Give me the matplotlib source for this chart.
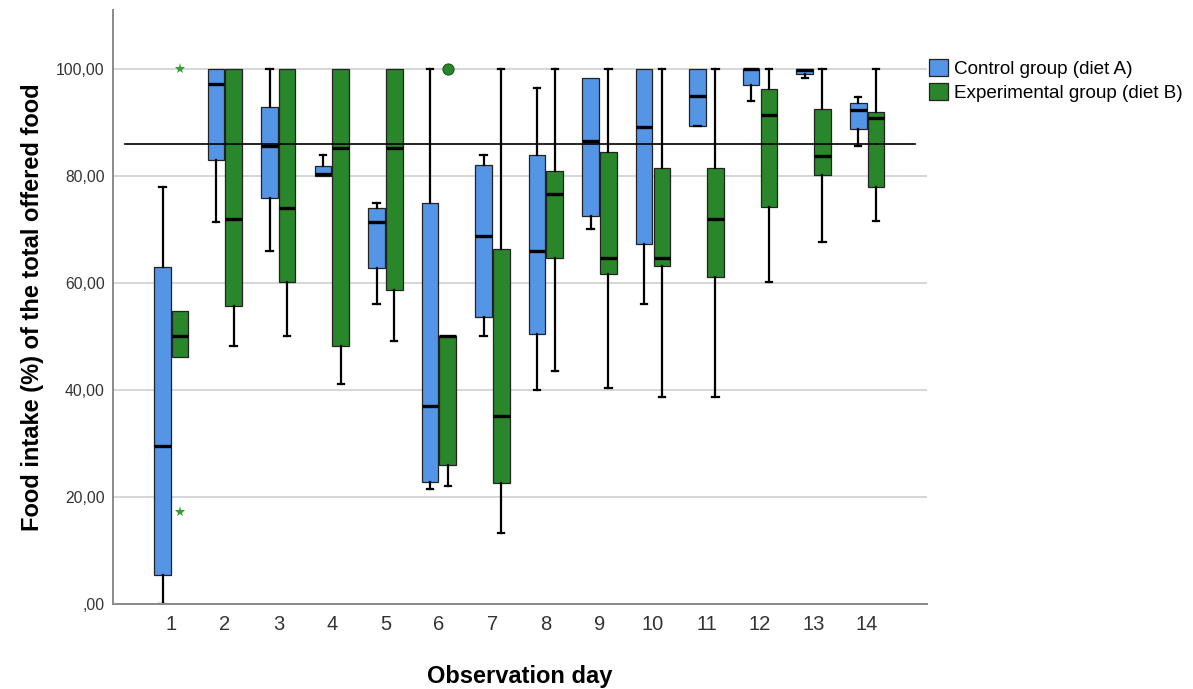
import matplotlib
matplotlib.use("Agg")
import matplotlib.pyplot as plt
from matplotlib.patches import Patch
import numpy as np

plt.rcParams['font.family'] = ['Liberation Sans', 'DejaVu Sans']

days = list(range(1, 15))

# control group (diet A): five-number summaries
ctrl_whislo = [0.0, 71.4, 66.0, 80.0, 56.0, 21.5, 50.0, 40.0, 70.0, 56.0, 89.3, 94.0, 98.2, 85.6]
ctrl_q1 = [5.5, 83.0, 75.8, 80.0, 62.8, 22.8, 53.6, 50.4, 72.5, 67.2, 89.4, 96.9, 99.1, 88.8]
ctrl_med = [29.5, 97.2, 85.6, 80.3, 71.4, 37.0, 68.7, 66.0, 86.6, 89.2, 95.0, 100.0, 99.8, 92.4]
ctrl_q3 = [63.0, 100.0, 92.8, 81.9, 74.0, 75.0, 82.1, 83.9, 98.3, 100.0, 100.0, 100.0, 100.0, 93.7]
ctrl_whishi = [78.0, 100.0, 100.0, 83.9, 75.0, 100.0, 83.9, 96.4, 98.3, 100.0, 100.0, 100.0, 100.0, 94.7]

# experimental group (diet B)
exp_whislo = [46.2, 48.3, 50.0, 41.2, 49.1, 22.1, 13.3, 43.6, 40.3, 38.7, 38.7, 60.2, 67.7, 71.6]
exp_q1 = [46.2, 55.6, 60.2, 48.2, 58.7, 25.9, 22.6, 64.7, 61.7, 63.2, 61.1, 74.1, 80.1, 77.9]
exp_med = [50.0, 72.0, 74.0, 85.2, 85.2, 50.0, 35.2, 76.7, 64.7, 64.6, 72.0, 91.3, 83.8, 90.8]
exp_q3 = [54.8, 100.0, 100.0, 100.0, 100.0, 50.0, 66.3, 81.0, 84.5, 81.4, 81.4, 96.3, 92.5, 91.9]
exp_whishi = [54.8, 100.0, 100.0, 100.0, 100.0, 50.0, 100.0, 100.0, 100.0, 100.0, 100.0, 100.0, 100.0, 100.0]

# outliers of the experimental group: extremes (*) and plain outliers (o)
exp_extreme_day = [1, 1]
exp_extreme_val = [100.0, 17.2]
exp_outlier_day = [6]
exp_outlier_val = [100.0]

ref_value = 86.0

ytick_vals = [0, 20, 40, 60, 80, 100]
ytick_labels = [',00', '20,00', '40,00', '60,00', '80,00', '100,00']

BLUE = '#5495e6'
GREEN = '#2a862a'
offset = 0.165
width = 0.31


def make_stats(lo, q1, med, q3, hi):
    return [dict(whislo=a, q1=b, med=c, q3=d, whishi=e, fliers=[])
            for a, b, c, d, e in zip(lo, q1, med, q3, hi)]


def hide_flat_caps(parts, lo, q1, q3, hi):
    # no cap when the whisker has zero length (SPSS draws none)
    for i in range(len(lo)):
        if lo[i] >= q1[i]:
            parts['caps'][2 * i].set_visible(False)
        if hi[i] <= q3[i]:
            parts['caps'][2 * i + 1].set_visible(False)


fig = plt.figure(figsize=(11.93, 6.89), dpi=100)
ax = fig.add_axes([113 / 1193, 1 - 604 / 689, (927 - 113) / 1193, (604 - 10) / 689])

ctrl_pos = np.array(days) - offset
exp_pos = np.array(days) + offset

common = dict(widths=width, patch_artist=True, showfliers=False,
              capwidths=0.12, manage_ticks=False,
              whiskerprops=dict(color='black', lw=1.6),
              capprops=dict(color='black', lw=1.6),
              medianprops=dict(color='black', lw=2.4, solid_capstyle='butt'))

ctrl_parts = ax.bxp(make_stats(ctrl_whislo, ctrl_q1, ctrl_med, ctrl_q3, ctrl_whishi),
                    positions=ctrl_pos,
                    boxprops=dict(facecolor=BLUE, edgecolor='#222222', lw=0.9), **common)
exp_parts = ax.bxp(make_stats(exp_whislo, exp_q1, exp_med, exp_q3, exp_whishi),
                   positions=exp_pos,
                   boxprops=dict(facecolor=GREEN, edgecolor='#222222', lw=0.9), **common)
hide_flat_caps(ctrl_parts, ctrl_whislo, ctrl_q1, ctrl_q3, ctrl_whishi)
hide_flat_caps(exp_parts, exp_whislo, exp_q1, exp_q3, exp_whishi)

ax.plot(np.array(exp_extreme_day) + offset, exp_extreme_val, linestyle='none',
        marker='*', ms=8, color='#33a033', markeredgewidth=0, zorder=5)
ax.plot(np.array(exp_outlier_day) + offset, exp_outlier_val, linestyle='none',
        marker='o', ms=8, markerfacecolor=GREEN, markeredgecolor='#1a5a1a',
        markeredgewidth=0.8, zorder=5)

ax.plot([0.13, 14.9], [ref_value, ref_value], color='black', lw=1.2, zorder=6)

ax.set_xlim(-0.09, 15.12)
ax.set_ylim(0, 111)
ax.set_yticks(ytick_vals)
ax.set_yticklabels(ytick_labels, fontsize=11.3, color='#333333')
ax.set_xticks(days)
ax.set_xticklabels([str(d) for d in days], fontsize=14.5, color='#333333')
ax.tick_params(axis='both', length=0)
ax.tick_params(axis='y', pad=6)
ax.tick_params(axis='x', pad=8)
ax.yaxis.grid(True, color='#d0d0d0', lw=1.2)
ax.set_axisbelow(True)

for side in ['top', 'right']:
    ax.spines[side].set_visible(False)
for side in ['left', 'bottom']:
    ax.spines[side].set_color('#8a8a8a')
    ax.spines[side].set_linewidth(1.4)

ax.set_xlabel('Observation day', fontsize=17, fontweight='bold', labelpad=22)
ax.set_ylabel('Food intake (%) of the total offered food', fontsize=17,
              fontweight='bold', labelpad=9)

handles = [Patch(facecolor=BLUE, edgecolor='#222222', lw=0.9, label='Control group (diet A)'),
           Patch(facecolor=GREEN, edgecolor='#222222', lw=0.9, label='Experimental group (diet B)')]
fig.legend(handles=handles, loc='upper left', bbox_to_anchor=(929 / 1193, 1 - 59 / 689),
           frameon=False, fontsize=13.6, handlelength=1.0, handleheight=1.0,
           handletextpad=0.3, labelspacing=0.28, borderpad=0, borderaxespad=0)

fig.savefig('out.png', dpi=100)
